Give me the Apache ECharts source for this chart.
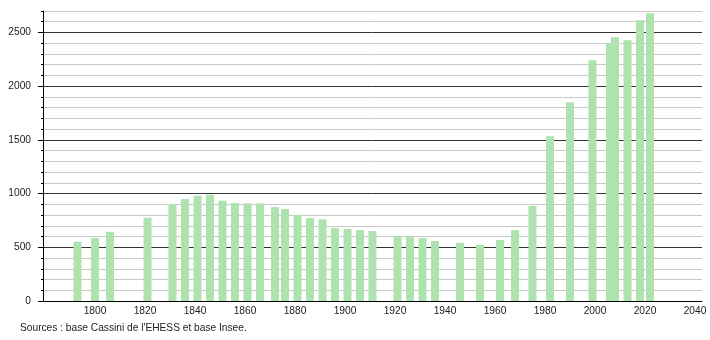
<!DOCTYPE html>
<html>
<head>
<meta charset="utf-8">
<script src="https://cdn.jsdelivr.net/npm/echarts@6/dist/echarts.min.js"></script>
<style>html,body{margin:0;padding:0;background:#fff;}#c{width:710px;height:340px;}</style>
</head>
<body>
<div id="c"></div>
<script>
const years = [1793,1800,1806,1821,1831,1836,1841,1846,1851,1856,1861,1866,1872,1876,1881,1886,1891,1896,1901,1906,1911,1921,1926,1931,1936,1946,1954,1962,1968,1975,1982,1990,1999,2006,2008,2013,2018,2022];
const population = [552,586,645,775,902,949,980,989,933,912,909,909,874,856,800,772,760,679,670,660,651,602,602,586,558,540,521,567,660,884,1535,1851,2242,2397,2456,2428,2614,2679];
const xTickLabels = [1800,1820,1840,1860,1880,1900,1920,1940,1960,1980,2000,2020,2040];
const yTickLabels = [0,500,1000,1500,2000,2500];
const sourceText = "Sources : base Cassini de l'EHESS et base Insee.";

const chart = echarts.init(document.getElementById('c'), null, {renderer:'canvas'});
const font = 'Liberation Sans, Arial, sans-serif';
chart.setOption({
  animation:false,
  backgroundColor:'#fff',
  grid:{left:43, right:8, top:11, bottom:39},
  xAxis:{
    type:'value', min:1779.2, max:2042.8,
    axisLine:{show:true, onZero:false, lineStyle:{color:'#000', width:1}},
    axisTick:{show:false},
    splitLine:{show:false},
    axisLabel:{customValues:xTickLabels, formatter:v=>String(v), color:'#222', fontSize:10.2, fontFamily:font, margin:5}
  },
  yAxis:[{
    type:'value', min:0, max:2700, interval:100,
    axisLine:{show:true, lineStyle:{color:'#000', width:1}},
    axisTick:{show:true, length:2, lineStyle:{color:'#000'}},
    axisLabel:{show:false},
    splitLine:{show:true, lineStyle:{color:['#333','#c8c8c8','#c8c8c8','#c8c8c8','#c8c8c8'], width:1}}
  },{
    type:'value', min:0, max:2700,
    axisLine:{show:false},
    axisTick:{show:true, length:5, customValues:yTickLabels, lineStyle:{color:'#000'}},
    axisLabel:{customValues:yTickLabels, formatter:v=>String(v), color:'#222', fontSize:10.2, fontFamily:font, margin:12},
    splitLine:{show:false},
    position:'left'
  }],
  graphic:[{
    type:'text', left:20, top:323,
    style:{text:sourceText, fill:'#222', font:'10.2px ' + font}
  }],
  series:[{
    type:'bar', yAxisIndex:0,
    data: years.map((y,i)=>[y, population[i]]),
    barWidth:8,
    itemStyle:{color:'#aee2ae'},
    z:3
  }]
});
</script>
</body>
</html>
